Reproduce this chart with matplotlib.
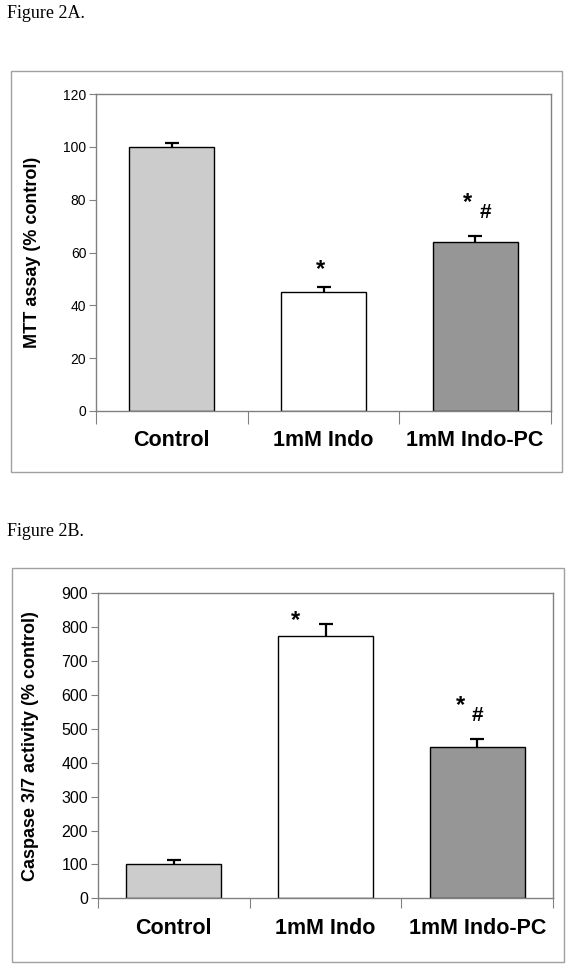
import matplotlib.pyplot as plt
from matplotlib.patches import Rectangle
import numpy as np

# data
groups = ['Control', '1mM Indo', '1mM Indo-PC']
bar_colors = ['#cccccc', '#ffffff', '#969696']

mtt_mean = [100, 45, 64]
mtt_err = [1.6, 1.8, 2.4]

casp_mean = [100, 775, 447]
casp_err = [14, 34, 23]

# significance marks: (group index, text, dx, dy above error bar, size)
mtt_marks = [(1, '*', -0.02, 6.6, 17), (2, '*', -0.05, 12.6, 17), (2, '#', 0.07, 8.8, 15)]
casp_marks = [(1, '*', -0.20, 12, 17), (2, '*', -0.11, 98, 17), (2, '#', 0.0, 69, 15)]

plt.rcParams['font.family'] = ['Liberation Sans', 'DejaVu Sans']

W, H = 571, 968
fig = plt.figure(figsize=(W / 100, H / 100), dpi=100)
fig.patch.set_facecolor('white')


def px_rect(x0, y0, x1, y1):
    # pixel box (top-left origin) -> figure fraction [left, bottom, width, height]
    return [x0 / W, 1 - y1 / H, (x1 - x0) / W, (y1 - y0) / H]


def panel(rect, means, errs, marks, ymax, ystep, ylabel, tick_fs, width, xtick_len):
    ax = fig.add_axes(rect)
    x = np.arange(len(groups))
    ax.bar(x, means, width=width, color=bar_colors, edgecolor='black', linewidth=1.0, zorder=2)
    # symmetric bars drawn behind the bars -> only the upper half shows
    ax.errorbar(x, means, yerr=errs, fmt='none', ecolor='black',
                elinewidth=1.6, capsize=5, capthick=1.6, zorder=1)
    for i, txt, dx, dy, fs in marks:
        ax.text(x[i] + dx, means[i] + errs[i] + dy, txt, ha='center', va='center',
                fontsize=fs, fontweight='bold')
    ax.set_xlim(-0.5, len(groups) - 0.5)
    ax.set_ylim(0, ymax)
    ax.set_yticks(np.arange(0, ymax + 1, ystep))
    ax.tick_params(axis='y', labelsize=tick_fs, length=5, width=0.8, color='#808080', pad=2)
    # x ticks between categories, labels on categories
    ax.set_xticks(np.arange(-0.5, len(groups)), minor=False)
    ax.set_xticklabels([])
    ax.set_xticks(x, minor=True)
    ax.set_xticklabels(groups, minor=True, fontsize=15.5, fontweight='bold')
    ax.tick_params(axis='x', which='major', length=xtick_len, width=0.8, color='#808080')
    ax.tick_params(axis='x', which='minor', length=0, pad=14)
    for s in ax.spines.values():
        s.set_color('#808080')
        s.set_linewidth(1.0)
    ax.set_ylabel(ylabel, fontsize=13, fontweight='bold')
    return ax


# Figure 2A
fig.text(7 / W, 1 - 14 / H, 'Figure 2A.', family='Liberation Serif', fontsize=13, va='center')
fig.add_artist(Rectangle((11 / W, 1 - 472 / H), 551 / W, 401 / H, transform=fig.transFigure,
                         fill=False, edgecolor='#a0a0a0', linewidth=1.0))
ax1 = panel(px_rect(96, 94, 551, 411), mtt_mean, mtt_err, mtt_marks, 120, 20,
            'MTT assay (% control)', 10, 0.56, 9)
ax1.yaxis.set_label_coords(-0.12, 0.5)

# Figure 2B
fig.text(7 / W, 1 - 532 / H, 'Figure 2B.', family='Liberation Serif', fontsize=13, va='center')
fig.add_artist(Rectangle((11.5 / W, 1 - 962 / H), 552.5 / W, 394 / H, transform=fig.transFigure,
                         fill=False, edgecolor='#a0a0a0', linewidth=1.0))
ax2 = panel(px_rect(97.7, 593.3, 553.3, 898.3), casp_mean, casp_err, casp_marks, 900, 100,
            'Caspase 3/7 activity (% control)', 11.5, 0.625, 7)
ax2.yaxis.set_label_coords(-0.128, 0.5)

fig.savefig('out.png', dpi=100)
